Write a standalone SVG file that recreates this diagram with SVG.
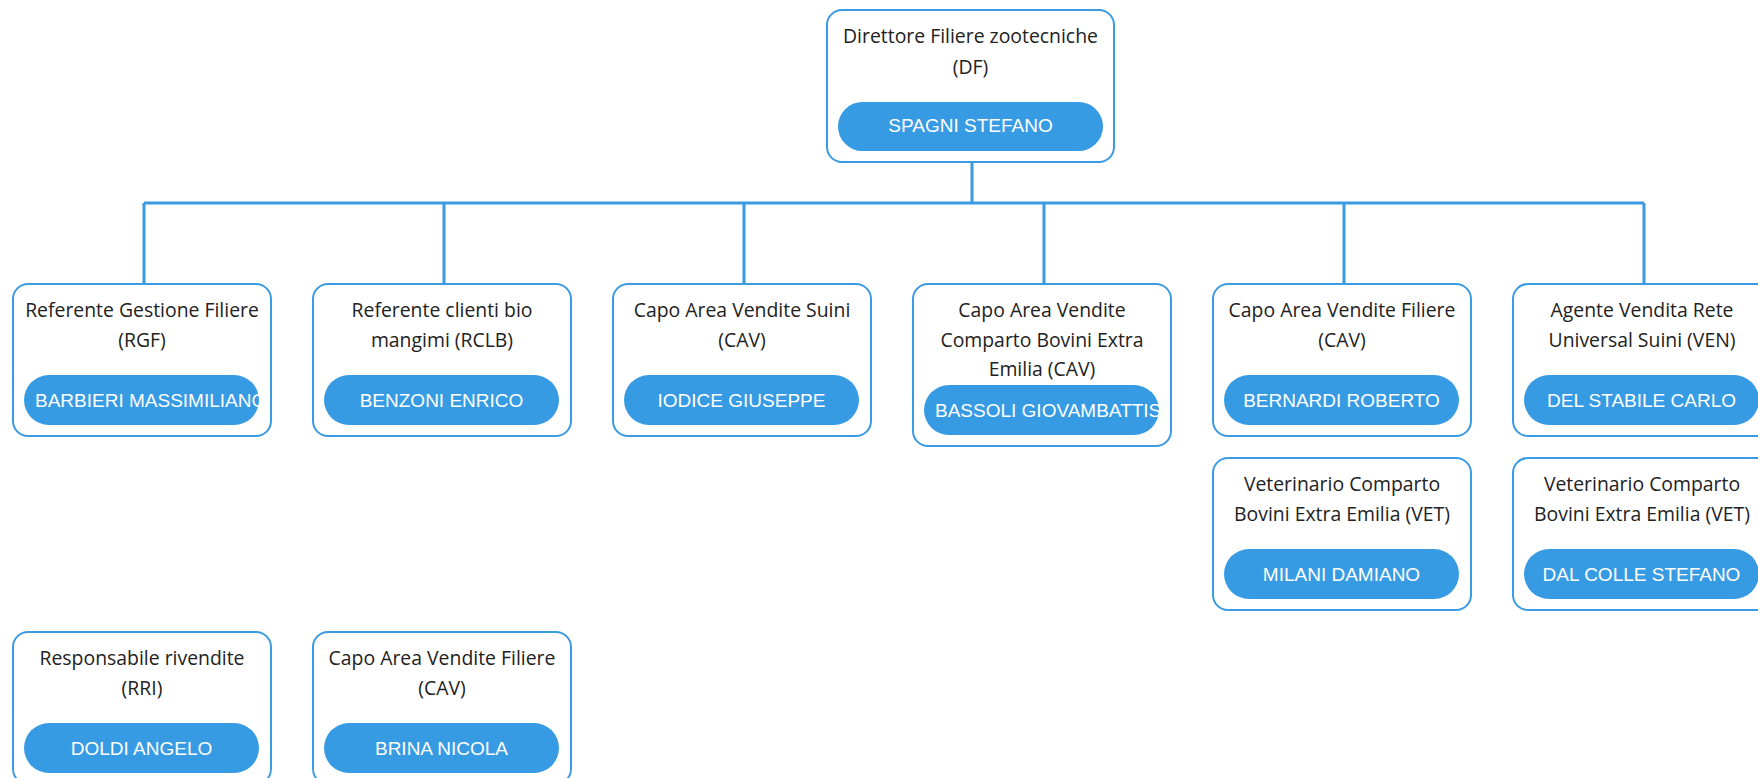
<svg xmlns="http://www.w3.org/2000/svg" width="1758" height="778" viewBox="0 0 1758 778">
<style>
.box{fill:#fff;stroke:#3a9be3;stroke-width:2}
.pill{fill:#379be4}
.t{font-family:"Open Sans","Liberation Sans",sans-serif;font-size:19.4px;fill:#222;text-anchor:middle}
.n{font-family:"Liberation Sans",sans-serif;font-size:19px;fill:#fff;text-anchor:middle}
.nl{text-anchor:start}
.c{fill:none;stroke:#3a9be3;stroke-width:3}
</style>
<defs>
<clipPath id="cp0"><rect x="24" y="375" width="235" height="50"/></clipPath>
<clipPath id="cp3"><rect x="924" y="385" width="235" height="50"/></clipPath>
</defs>
<rect width="1758" height="778" fill="#fff"/>
<g id="connectors">
<path class="c" d="M972 162V203M144 203H1644M144 203V284M444 203V284M744 203V284M1044 203V284M1344 203V284M1644 203V284"/>
</g>
<g id="df">
<rect class="box" x="827" y="10" width="287" height="152" rx="15"/>
<text class="t" x="970.5" y="43">Direttore Filiere zootecniche</text>
<text class="t" x="970.5" y="74">(DF)</text>
<rect class="pill" x="838" y="102" width="265" height="49" rx="24.5"/>
<text class="n" x="970.5" y="132">SPAGNI STEFANO</text>
</g>
<g id="rgf">
<rect class="box" x="13" y="284" width="258" height="152" rx="15"/>
<text class="t" x="142" y="317">Referente Gestione Filiere</text>
<text class="t" x="142" y="347">(RGF)</text>
<rect class="pill" x="24" y="375" width="235" height="50" rx="25"/>
<text class="n nl" x="35" y="407" clip-path="url(#cp0)">BARBIERI MASSIMILIANO</text>
</g>
<g id="rclb">
<rect class="box" x="313" y="284" width="258" height="152" rx="15"/>
<text class="t" x="442" y="317">Referente clienti bio</text>
<text class="t" x="442" y="347">mangimi (RCLB)</text>
<rect class="pill" x="324" y="375" width="235" height="50" rx="25"/>
<text class="n" x="441.5" y="407">BENZONI ENRICO</text>
</g>
<g id="cav1">
<rect class="box" x="613" y="284" width="258" height="152" rx="15"/>
<text class="t" x="742" y="317">Capo Area Vendite Suini</text>
<text class="t" x="742" y="347">(CAV)</text>
<rect class="pill" x="624" y="375" width="235" height="50" rx="25"/>
<text class="n" x="741.5" y="407">IODICE GIUSEPPE</text>
</g>
<g id="cav2">
<rect class="box" x="913" y="284" width="258" height="162" rx="15"/>
<text class="t" x="1042" y="317">Capo Area Vendite</text>
<text class="t" x="1042" y="347">Comparto Bovini Extra</text>
<text class="t" x="1042" y="376">Emilia (CAV)</text>
<rect class="pill" x="924" y="385" width="235" height="50" rx="25"/>
<text class="n nl" x="935" y="417" clip-path="url(#cp3)">BASSOLI GIOVAMBATTISTA</text>
</g>
<g id="cav3">
<rect class="box" x="1213" y="284" width="258" height="152" rx="15"/>
<text class="t" x="1342" y="317">Capo Area Vendite Filiere</text>
<text class="t" x="1342" y="347">(CAV)</text>
<rect class="pill" x="1224" y="375" width="235" height="50" rx="25"/>
<text class="n" x="1341.5" y="407">BERNARDI ROBERTO</text>
</g>
<g id="ven">
<rect class="box" x="1513" y="284" width="258" height="152" rx="15"/>
<text class="t" x="1642" y="317">Agente Vendita Rete</text>
<text class="t" x="1642" y="347">Universal Suini (VEN)</text>
<rect class="pill" x="1524" y="375" width="235" height="50" rx="25"/>
<text class="n" x="1641.5" y="407">DEL STABILE CARLO</text>
</g>
<g id="vet1">
<rect class="box" x="1213" y="458" width="258" height="152" rx="15"/>
<text class="t" x="1342" y="491">Veterinario Comparto</text>
<text class="t" x="1342" y="521">Bovini Extra Emilia (VET)</text>
<rect class="pill" x="1224" y="549" width="235" height="50" rx="25"/>
<text class="n" x="1341.5" y="581">MILANI DAMIANO</text>
</g>
<g id="vet2">
<rect class="box" x="1513" y="458" width="258" height="152" rx="15"/>
<text class="t" x="1642" y="491">Veterinario Comparto</text>
<text class="t" x="1642" y="521">Bovini Extra Emilia (VET)</text>
<rect class="pill" x="1524" y="549" width="235" height="50" rx="25"/>
<text class="n" x="1641.5" y="581">DAL COLLE STEFANO</text>
</g>
<g id="rri">
<rect class="box" x="13" y="632" width="258" height="152" rx="15"/>
<text class="t" x="142" y="665">Responsabile rivendite</text>
<text class="t" x="142" y="695">(RRI)</text>
<rect class="pill" x="24" y="723" width="235" height="50" rx="25"/>
<text class="n" x="141.5" y="755">DOLDI ANGELO</text>
</g>
<g id="cav4">
<rect class="box" x="313" y="632" width="258" height="152" rx="15"/>
<text class="t" x="442" y="665">Capo Area Vendite Filiere</text>
<text class="t" x="442" y="695">(CAV)</text>
<rect class="pill" x="324" y="723" width="235" height="50" rx="25"/>
<text class="n" x="441.5" y="755">BRINA NICOLA</text>
</g>
</svg>
